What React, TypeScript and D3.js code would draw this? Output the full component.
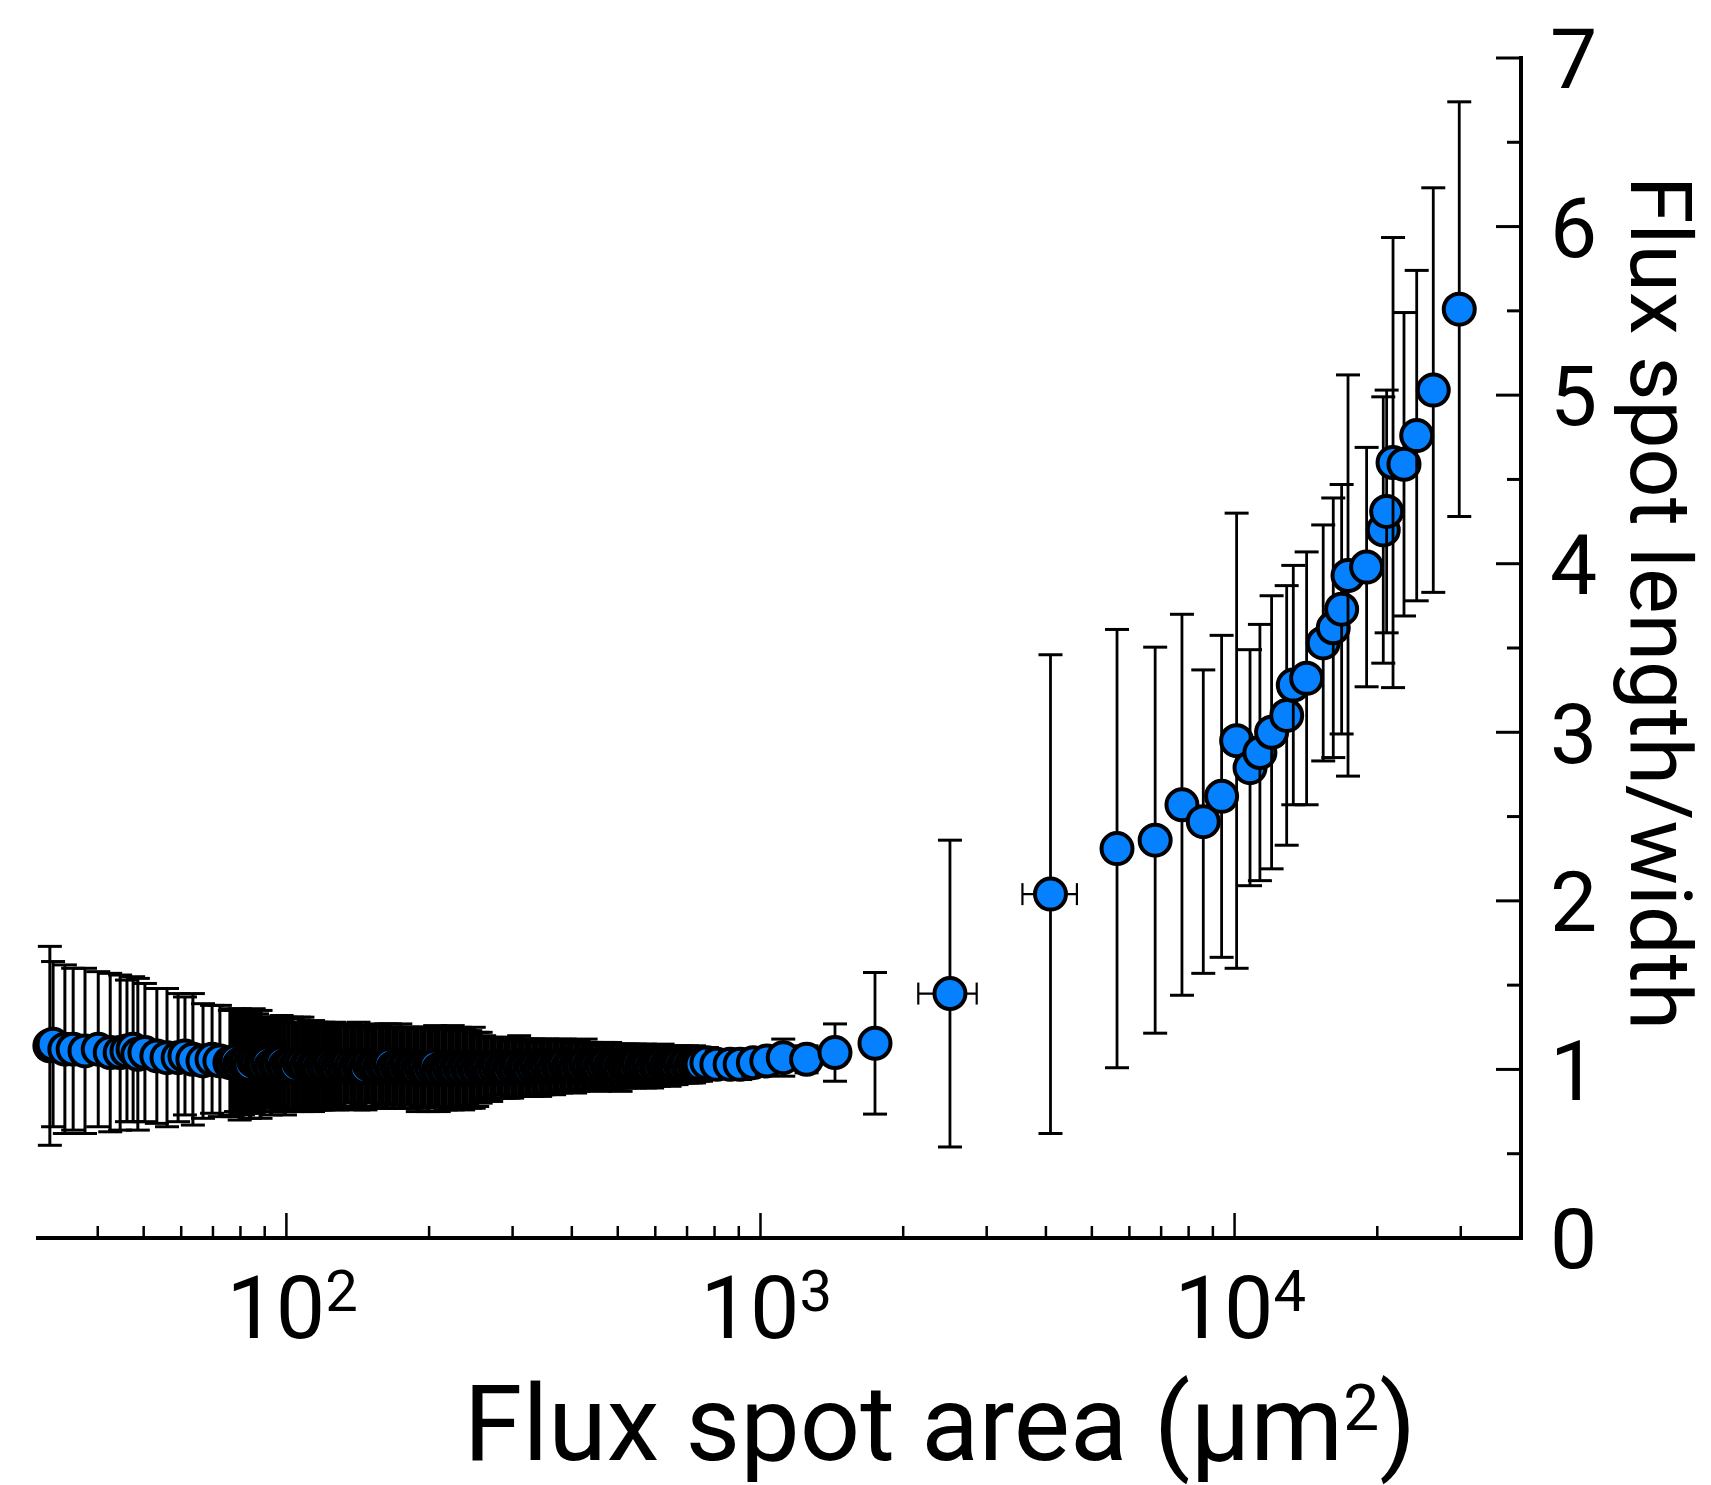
import React from 'react'
import * as d3 from 'd3'

// far left, bars still separated (area µm², length/width ratio, sd)
const leftArea = [31.7, 32.2, 34.1, 35.5, 37.6, 40.1, 42.5, 44.6, 46.1, 47.5, 48.6, 50.3, 53.3, 56.0, 59.1, 61.1, 63.5, 66.7, 69.7, 72.4, 76.0]
const leftRatio = [1.14, 1.15, 1.12, 1.12, 1.11, 1.12, 1.10, 1.10, 1.11, 1.12, 1.09, 1.10, 1.08, 1.07, 1.07, 1.08, 1.06, 1.05, 1.06, 1.05, 1.04]
const leftSd = [0.59, 0.49, 0.50, 0.48, 0.49, 0.46, 0.47, 0.46, 0.42, 0.43, 0.45, 0.41, 0.40, 0.41, 0.38, 0.35, 0.39, 0.34, 0.32, 0.33, 0.31]

// the dense black band
const denseArea = [
  77.0, 78.3, 79.7, 81.0, 82.4, 83.8, 85.3, 86.7, 88.2, 89.7, 91.3, 92.8, 94.4, 96.0, 97.7, 99.3,
  101.0, 102.8, 104.5, 106.3, 108.1, 110.0, 111.9, 113.8, 115.7, 117.7, 119.7, 121.8, 123.9, 126.0,
  128.1, 130.3, 132.6, 134.8, 137.1, 139.5, 141.9, 144.3, 146.8, 149.3, 151.8, 154.4, 157.1, 159.8,
  162.5, 165.3, 168.1, 171.0, 173.9, 176.9, 179.9, 183.0, 186.1, 189.3, 192.5, 195.8, 199.2, 202.6,
  206.0, 209.6, 213.2, 216.8, 220.5, 224.3, 228.1, 232.0, 236.0, 240.1, 244.2, 248.4, 252.6, 256.9,
  261.3, 265.8, 270.4, 275.0, 279.7, 284.5, 289.4, 294.3, 299.4, 304.5, 309.7, 315.0, 320.4, 325.9,
  331.5, 337.2, 343.0, 348.9, 354.8, 360.9, 367.1, 373.4, 379.8, 386.3, 392.9, 399.6, 406.5, 413.4,
  420.5, 427.7, 435.0, 442.5, 450.1, 457.8, 465.6, 473.6, 481.7, 490.0, 498.4, 506.9, 515.6, 524.4,
  533.4, 542.6, 551.9, 561.3, 570.9, 580.7, 590.7, 600.8, 611.1, 621.6, 632.2, 643.0, 654.0, 665.2,
  676.6, 688.2, 700.0, 712.0, 724.2, 736.6, 749.2
]
const denseRatio = [
  1.04, 1.05, 1.03, 1.04, 1.04, 1.03, 1.05, 1.04, 1.03,
  1.03, 1.04, 1.02, 1.03, 1.03, 1.04, 1.02, 1.03, 1.03, 1.02, 1.04, 1.03,
  1.02, 1.03, 1.02, 1.02, 1.01, 1.02,
  1.02, 1.03, 1.02, 1.01, 1.02, 1.02, 1.03, 1.02, 1.01, 1.02, 1.02, 1.01, 1.03, 1.02, 1.02, 1.01, 1.02, 1.02, 1.03, 1.01, 1.02, 1.02, 1.01, 1.02, 1.01,
  1.01, 1.00, 1.01, 1.01, 1.00, 1.01, 1.02, 1.00, 1.01, 1.00, 1.01, 1.01, 1.00, 1.01, 1.00, 1.01, 1.00, 1.01, 1.00, 1.01,
  1.01, 1.01, 1.00, 1.01, 1.02, 1.01, 1.01, 1.00, 1.01, 1.01, 1.02, 1.01, 1.01, 1.00, 1.01, 1.02, 1.01, 1.01,
  1.02, 1.02, 1.01, 1.02, 1.02, 1.03, 1.02, 1.02, 1.01, 1.02, 1.02, 1.03, 1.02,
  1.02, 1.02, 1.01, 1.02, 1.03, 1.02, 1.02, 1.02, 1.01, 1.02, 1.02,
  1.02, 1.02, 1.03, 1.02, 1.02, 1.02, 1.01, 1.02, 1.02, 1.03, 1.02, 1.02, 1.02,
  1.02, 1.03, 1.02, 1.03, 1.02, 1.03, 1.03, 1.03
]
const denseSd = [
  0.32, 0.30, 0.33, 0.31, 0.30, 0.32, 0.31, 0.29, 0.32,
  0.28, 0.27, 0.29, 0.28, 0.26, 0.28, 0.29, 0.27, 0.28, 0.26, 0.27, 0.28,
  0.26, 0.25, 0.27, 0.26, 0.25, 0.26,
  0.25, 0.24, 0.26, 0.25, 0.24, 0.25, 0.23, 0.25, 0.24, 0.26, 0.24, 0.25, 0.23, 0.24, 0.25, 0.24, 0.23, 0.25, 0.24, 0.24, 0.23, 0.25, 0.24, 0.23, 0.24,
  0.24, 0.25, 0.23, 0.24, 0.25, 0.23, 0.24, 0.25, 0.23, 0.24, 0.24, 0.25, 0.23, 0.24, 0.24, 0.22, 0.23, 0.24, 0.22, 0.21,
  0.19, 0.18, 0.19, 0.18, 0.17, 0.18, 0.18, 0.17, 0.18, 0.17, 0.18, 0.17, 0.17, 0.16, 0.17, 0.16, 0.17, 0.16,
  0.16, 0.15, 0.16, 0.15, 0.16, 0.15, 0.15, 0.14, 0.15, 0.15, 0.14, 0.15, 0.14,
  0.14, 0.13, 0.14, 0.14, 0.13, 0.14, 0.13, 0.13, 0.14, 0.13, 0.13,
  0.12, 0.13, 0.12, 0.12, 0.13, 0.12, 0.12, 0.11, 0.12, 0.12, 0.11, 0.12, 0.11,
  0.11, 0.11, 0.10, 0.11, 0.10, 0.11, 0.10, 0.10
]

// sparse points towards large areas
const rightArea = [771, 809, 863, 906, 966, 1031, 1117, 1251, 1436, 1744, 2510, 4090, 5650, 6800, 7745, 8590, 9390, 10100, 10780, 11310, 11970, 12880, 13300, 14190, 15380, 16150, 16820, 17350, 18990, 20590, 20930, 21590, 22770, 24220, 26250, 29780]
const rightRatio = [1.04, 1.03, 1.03, 1.03, 1.04, 1.05, 1.07, 1.06, 1.10, 1.155, 1.45, 2.04, 2.31, 2.36, 2.57, 2.47, 2.62, 2.95, 2.79, 2.88, 3.00, 3.10, 3.28, 3.32, 3.53, 3.62, 3.73, 3.93, 3.98, 4.20, 4.31, 4.60, 4.59, 4.76, 5.03, 5.51]
const rightSd = [0.09, 0.08, 0.08, 0.09, 0.08, 0.08, 0.11, 0.08, 0.17, 0.42, 0.91, 1.42, 1.30, 1.145, 1.13, 0.90, 0.955, 1.35, 0.70, 0.76, 0.81, 0.77, 0.71, 0.75, 0.70, 0.77, 0.74, 1.19, 0.71, 0.79, 0.72, 1.335, 0.90, 0.98, 1.20, 1.23]

// horizontal error bars (only two points have visible ones)
const xErrArea = [2510, 4090]
const xErrLo = [2152, 3569]
const xErrHi = [2858, 4650]

const yTicks = [0, 1, 2, 3, 4, 5, 6, 7]
const xDecades = [2, 3, 4]

const W = 1711
const H = 1485
const FONT = 'Roboto, sans-serif'

const App = () => {
  const x = d3.scaleLog().domain([30, 40000]).range([38.5, 1520])
  const y = d3.scaleLinear().domain([0, 7]).range([1238, 58])
  const axisX = 1521

  const points = [
    ...leftArea.map((a, i) => ({ a, r: leftRatio[i], sd: leftSd[i], w: 3 })),
    ...denseArea.map((a, i) => ({ a, r: denseRatio[i], sd: denseSd[i], w: 4 })),
    ...rightArea.map((a, i) => ({ a, r: rightRatio[i], sd: rightSd[i], w: 2.8 }))
  ].sort((p, q) => p.a - q.a)

  const xTicks = x.ticks().filter(t => t > 30 && t < 40000)
  const isMajor = t => Math.abs(Math.log10(t) - Math.round(Math.log10(t))) < 1e-9
  const yMinor = d3.range(0.5, 7, 1)

  const cap = 12
  return (
    <svg width={W} height={H} style={{ position: 'absolute', left: 0, top: 0, background: '#fff' }}>
      <g>
        {points.map((p, i) => {
          const cx = x(p.a)
          const cy = y(p.r)
          const y1 = y(p.r + p.sd)
          const y2 = y(p.r - p.sd)
          const k = xErrArea.indexOf(p.a)
          return (
            <g key={i}>
              <line x1={cx} x2={cx} y1={y1} y2={y2} stroke="#000" strokeWidth={p.w} />
              <line x1={cx - cap} x2={cx + cap} y1={y1} y2={y1} stroke="#000" strokeWidth={3} />
              <line x1={cx - cap} x2={cx + cap} y1={y2} y2={y2} stroke="#000" strokeWidth={3} />
              {k >= 0 && (
                <g stroke="#000" strokeWidth={2.2}>
                  <line x1={x(xErrLo[k])} x2={x(xErrHi[k])} y1={cy} y2={cy} />
                  <line x1={x(xErrLo[k])} x2={x(xErrLo[k])} y1={cy - 11} y2={cy + 11} />
                  <line x1={x(xErrHi[k])} x2={x(xErrHi[k])} y1={cy - 11} y2={cy + 11} />
                </g>
              )}
              <circle cx={cx} cy={cy} r={15.5} fill="#0581ff" stroke="#000" strokeWidth={4} />
            </g>
          )
        })}
      </g>

      {/* x axis */}
      <line x1={36} x2={axisX + 2} y1={y(0)} y2={y(0)} stroke="#000" strokeWidth={4} />
      {xTicks.map(t => (
        <line key={t} x1={x(t)} x2={x(t)} y1={y(0)} y2={y(0) - (isMajor(t) ? 25 : 12)} stroke="#000" strokeWidth={2.5} />
      ))}
      {xDecades.map(e => (
        <text key={e} x={x(Math.pow(10, e)) - 60} y={1338} fontFamily={FONT} fontSize={88} fill="#000">
          10<tspan dy={-27} fontSize={58}>{e}</tspan>
        </text>
      ))}
      <text x={940} y={1460} textAnchor="middle" fontFamily={FONT} fontSize={106} fill="#000">
        Flux spot area (µm<tspan dy={-30} fontSize={64}>2</tspan><tspan dy={30}>)</tspan>
      </text>

      {/* y axis on the right */}
      <line x1={axisX} x2={axisX} y1={y(7) - 2} y2={y(0) + 2} stroke="#000" strokeWidth={4} />
      {yTicks.map(t => (
        <line key={t} x1={axisX - 25} x2={axisX} y1={y(t)} y2={y(t)} stroke="#000" strokeWidth={3} />
      ))}
      {yMinor.map(t => (
        <line key={t} x1={axisX - 14} x2={axisX} y1={y(t)} y2={y(t)} stroke="#000" strokeWidth={3} />
      ))}
      {yTicks.map(t => (
        <text key={t} x={1550} y={y(t)} dy="0.36em" fontFamily={FONT} fontSize={84} fill="#000">{t}</text>
      ))}
      <text transform={`translate(1631,603) rotate(90)`} textAnchor="middle" fontFamily={FONT} fontSize={86} fill="#000">
        Flux spot length/width
      </text>
    </svg>
  )
}

export default App
